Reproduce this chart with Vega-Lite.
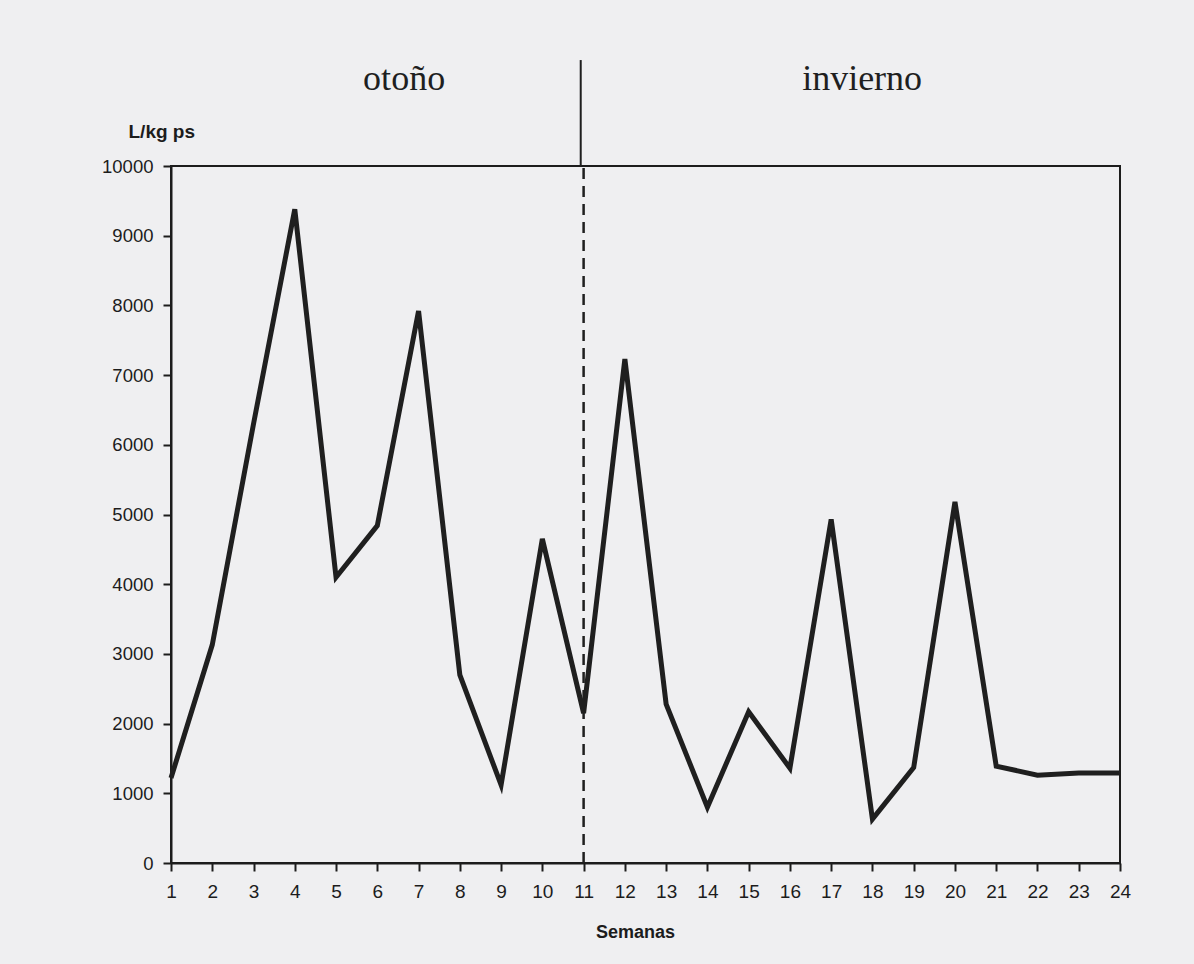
{
  "$schema": "https://vega.github.io/schema/vega-lite/v6.json",
  "autosize": "none",
  "padding": {"left": 171, "top": 166, "right": 74, "bottom": 101},
  "width": 949,
  "height": 697,
  "background": "#efeff1",
  "config": {
    "view": {"stroke": "#1c1c1c", "strokeWidth": 2},
    "font": "Liberation Sans",
    "axis": {
      "domainColor": "#1c1c1c",
      "domainWidth": 2,
      "tickColor": "#1c1c1c",
      "tickWidth": 2,
      "tickSize": 8,
      "labelColor": "#1c1c1c",
      "titleColor": "#1c1c1c",
      "grid": false,
      "labelFont": "Liberation Sans",
      "titleFont": "Liberation Sans"
    }
  },
  "datasets": {
    "semanas": [
      {"semana": 1, "valor": 1220},
      {"semana": 2, "valor": 3130},
      {"semana": 3, "valor": 6300},
      {"semana": 4, "valor": 9380},
      {"semana": 5, "valor": 4100},
      {"semana": 6, "valor": 4840},
      {"semana": 7, "valor": 7920},
      {"semana": 8, "valor": 2700},
      {"semana": 9, "valor": 1120},
      {"semana": 10, "valor": 4650},
      {"semana": 11, "valor": 2150},
      {"semana": 12, "valor": 7230},
      {"semana": 13, "valor": 2280},
      {"semana": 14, "valor": 800},
      {"semana": 15, "valor": 2170},
      {"semana": 16, "valor": 1360},
      {"semana": 17, "valor": 4930},
      {"semana": 18, "valor": 630},
      {"semana": 19, "valor": 1370},
      {"semana": 20, "valor": 5180},
      {"semana": 21, "valor": 1390},
      {"semana": 22, "valor": 1260},
      {"semana": 23, "valor": 1290},
      {"semana": 24, "valor": 1290}
    ],
    "uno": [{}]
  },
  "layer": [
    {
      "data": {"name": "semanas"},
      "mark": {"type": "line", "color": "#1f1f1f", "strokeWidth": 5, "strokeJoin": "miter", "strokeCap": "butt"},
      "encoding": {
        "x": {
          "field": "semana",
          "type": "quantitative",
          "scale": {"domain": [1, 24], "nice": false, "zero": false},
          "axis": {
            "values": [1, 2, 3, 4, 5, 6, 7, 8, 9, 10, 11, 12, 13, 14, 15, 16, 17, 18, 19, 20, 21, 22, 23, 24],
            "format": "d",
            "labelFontSize": 19,
            "labelPadding": 11,
            "labelFlush": false,
            "title": "Semanas",
            "titleFontSize": 18,
            "titleFontWeight": "bold",
            "titleX": 464,
            "titleY": 74,
            "titleBaseline": "alphabetic",
            "titleAnchor": null
          }
        },
        "y": {
          "field": "valor",
          "type": "quantitative",
          "scale": {"domain": [0, 10000], "nice": false},
          "axis": {
            "values": [0, 1000, 2000, 3000, 4000, 5000, 6000, 7000, 8000, 9000, 10000],
            "format": "d",
            "labelFontSize": 18.5,
            "labelPadding": 10,
            "labelFlush": false,
            "title": "L/kg ps",
            "titleFontSize": 19,
            "titleFontWeight": "bold",
            "titleAngle": 0,
            "titleAlign": "left",
            "titleBaseline": "alphabetic",
            "titleX": -43,
            "titleY": -29
          }
        }
      }
    },
    {
      "data": {"name": "uno"},
      "mark": {"type": "rule", "color": "#1f1f1f", "strokeWidth": 2.5, "strokeDash": [11, 7]},
      "encoding": {
        "x": {"datum": 11},
        "y": {"datum": 0},
        "y2": {"datum": 10000}
      }
    },
    {
      "data": {"name": "uno"},
      "mark": {"type": "rule", "color": "#1f1f1f", "strokeWidth": 2, "clip": false},
      "encoding": {
        "x": {"datum": 10.93},
        "y": {"datum": 10000},
        "y2": {"datum": 11520}
      }
    },
    {
      "data": {"name": "uno"},
      "mark": {"type": "text", "font": "Liberation Serif", "fontSize": 36, "color": "#1f1f1f", "align": "center", "baseline": "alphabetic", "text": "otoño"},
      "encoding": {
        "x": {"datum": 6.65},
        "y": {"datum": 11090}
      }
    },
    {
      "data": {"name": "uno"},
      "mark": {"type": "text", "font": "Liberation Serif", "fontSize": 36, "color": "#1f1f1f", "align": "center", "baseline": "alphabetic", "text": "invierno"},
      "encoding": {
        "x": {"datum": 17.75},
        "y": {"datum": 11090}
      }
    }
  ]
}
